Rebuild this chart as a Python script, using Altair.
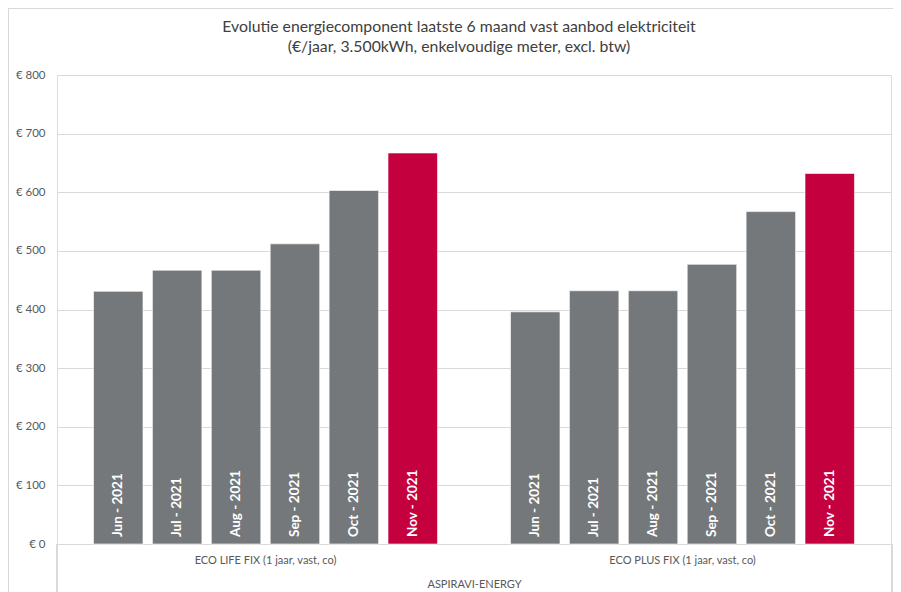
import altair as alt
import pandas as pd

months = ["Jun - 2021", "Jul - 2021", "Aug - 2021", "Sep - 2021", "Oct - 2021", "Nov - 2021"]
groups = ["ECO LIFE FIX (1 jaar, vast, co)", "ECO PLUS FIX (1 jaar, vast, co)"]
eco_life = [431, 467, 467, 512, 603, 667]
eco_plus = [396, 432, 432, 477, 567, 632]

rows = []
for g, vals in zip(groups, [eco_life, eco_plus]):
    for m, v in zip(months, vals):
        rows.append({"group": g, "month": m, "value": v})
df = pd.DataFrame(rows)

FONT = "Lato"
GRAY = "#75787b"
RED = "#c5003e"
TXT = "#595959"
W, H = 834, 469

base = alt.Chart(df)

bars = base.mark_bar(stroke="#ffffff", strokeOpacity=0.6, strokeWidth=1).encode(
    x=alt.X("group:N", sort=groups,
            scale=alt.Scale(paddingInner=0, paddingOuter=0),
            axis=alt.Axis(title="ASPIRAVI-ENERGY", labelAngle=0, ticks=False,
                          domainColor="#d9d9d9", labelColor=TXT, labelFontSize=11,
                          labelFont=FONT, labelPadding=10, titleFont=FONT,
                          titleFontSize=11, titleColor=TXT, titleFontWeight="normal",
                          titlePadding=13)),
    xOffset=alt.XOffset("month:N", sort=months,
                        scale=alt.Scale(paddingInner=0.16, paddingOuter=0.62)),
    y=alt.Y("value:Q", scale=alt.Scale(domain=[0, 800]),
            axis=alt.Axis(title=None, values=[0, 100, 200, 300, 400, 500, 600, 700, 800],
                          labelExpr="'€ ' + datum.value", domain=False, ticks=False,
                          gridColor="#d9d9d9", labelColor=TXT, labelFontSize=11.5,
                          labelFont=FONT, labelPadding=12)),
    color=alt.condition(alt.datum.month == "Nov - 2021", alt.value(RED), alt.value(GRAY)),
)

labels = base.mark_text(angle=270, align="left", baseline="middle", dx=7,
                        color="white", fontWeight="bold", fontSize=13.5, font=FONT).encode(
    x=alt.X("group:N", sort=groups),
    xOffset=alt.XOffset("month:N", sort=months),
    y=alt.datum(0),
    text="month:N",
)

left_line = base.mark_rule(color="#d9d9d9").encode(
    x=alt.value(0), y=alt.value(H), y2=alt.value(H + 48))
right_line = base.mark_rule(color="#d9d9d9").encode(
    x=alt.value(W + 1), y=alt.value(H), y2=alt.value(H + 48))
top_border = base.mark_rule(color="#d9d9d9").encode(
    x=alt.value(-49), x2=alt.value(W + 2), y=alt.value(-66.5))
left_border = base.mark_rule(color="#d9d9d9").encode(
    x=alt.value(-48.5), y=alt.value(-67), y2=alt.value(H + 48))

chart = alt.layer(bars, labels, left_line, right_line, top_border, left_border).properties(
    width=W, height=H,
    autosize=alt.AutoSizeParams(type="none"),
    padding={"left": 49, "top": 67, "right": 2, "bottom": 48},
    title=alt.TitleParams(
        text=["Evolutie energiecomponent laatste 6 maand vast aanbod elektriciteit",
              "(€/jaar, 3.500kWh, enkelvoudige meter, excl. btw)"],
        font=FONT, fontSize=15.8, fontWeight="normal", color="#404040",
        anchor="middle", dx=-15, offset=-48, lineHeight=20, frame="group"),
).configure_view(stroke=None).configure(background="white")

chart.save("out.html", embed_options={"renderer": "svg", "actions": False})
